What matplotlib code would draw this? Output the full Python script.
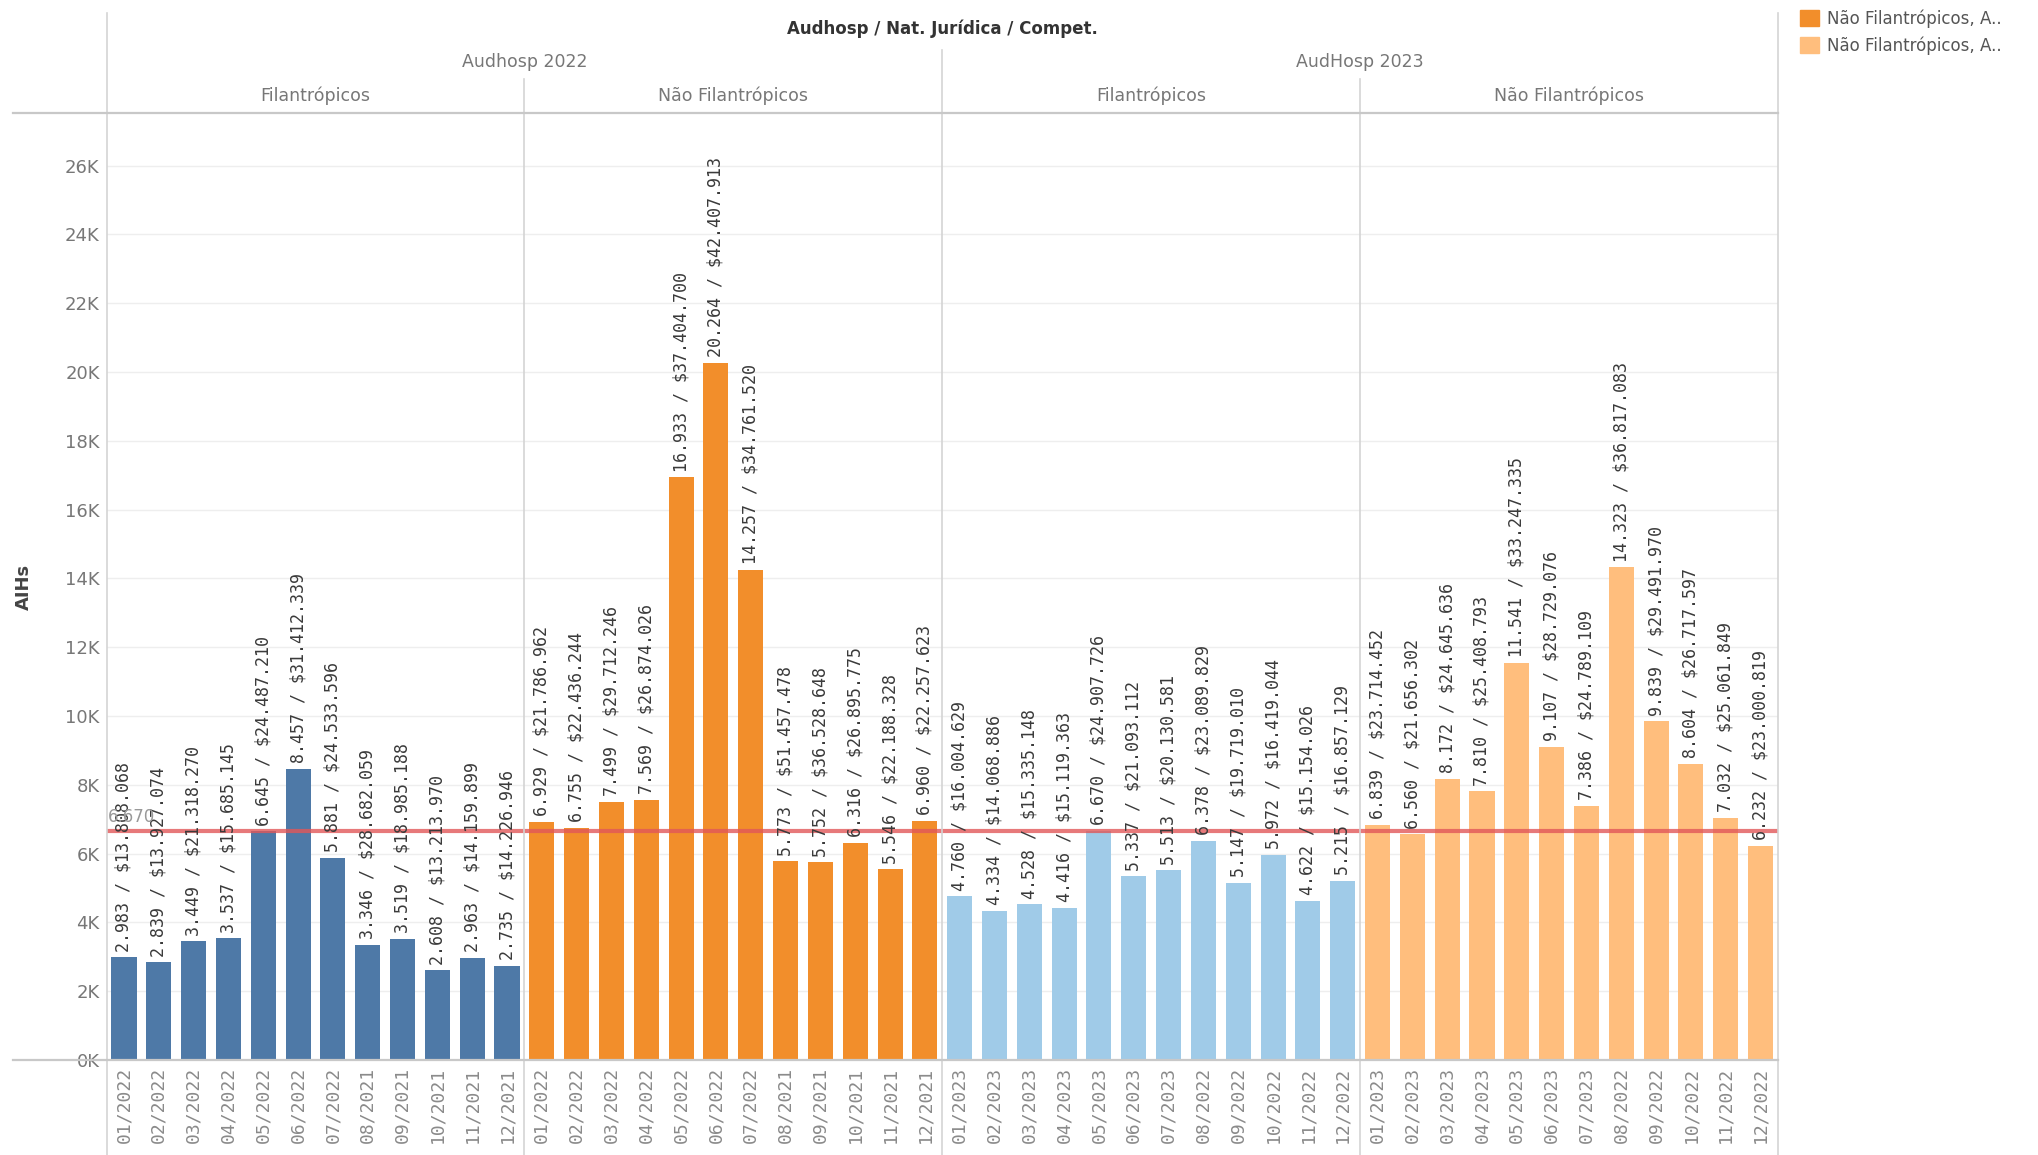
import matplotlib.pyplot as plt
from matplotlib.lines import Line2D
from matplotlib.patches import Patch
from matplotlib.transforms import blended_transform_factory

# dados
meses_2022 = ['01/2022', '02/2022', '03/2022', '04/2022', '05/2022', '06/2022',
              '07/2022', '08/2021', '09/2021', '10/2021', '11/2021', '12/2021']
meses_2023 = ['01/2023', '02/2023', '03/2023', '04/2023', '05/2023', '06/2023',
              '07/2023', '08/2022', '09/2022', '10/2022', '11/2022', '12/2022']

fil_2022 = [2983, 2839, 3449, 3537, 6645, 8457, 5881, 3346, 3519, 2608, 2963, 2735]
fil_2022_valor = ['$13.808.068', '$13.927.074', '$21.318.270', '$15.685.145',
                  '$24.487.210', '$31.412.339', '$24.533.596', '$28.682.059',
                  '$18.985.188', '$13.213.970', '$14.159.899', '$14.226.946']

nfil_2022 = [6929, 6755, 7499, 7569, 16933, 20264, 14257, 5773, 5752, 6316, 5546, 6960]
nfil_2022_valor = ['$21.786.962', '$22.436.244', '$29.712.246', '$26.874.026',
                   '$37.404.700', '$42.407.913', '$34.761.520', '$51.457.478',
                   '$36.528.648', '$26.895.775', '$22.188.328', '$22.257.623']

fil_2023 = [4760, 4334, 4528, 4416, 6670, 5337, 5513, 6378, 5147, 5972, 4622, 5215]
fil_2023_valor = ['$16.004.629', '$14.068.886', '$15.335.148', '$15.119.363',
                  '$24.907.726', '$21.093.112', '$20.130.581', '$23.089.829',
                  '$19.719.010', '$16.419.044', '$15.154.026', '$16.857.129']

nfil_2023 = [6839, 6560, 8172, 7810, 11541, 9107, 7386, 14323, 9839, 8604, 7032, 6232]
nfil_2023_valor = ['$23.714.452', '$21.656.302', '$24.645.636', '$25.408.793',
                   '$33.247.335', '$28.729.076', '$24.789.109', '$36.817.083',
                   '$29.491.970', '$26.717.597', '$25.061.849', '$23.000.819']

media = 6670

paineis = [
    (fil_2022, fil_2022_valor, meses_2022, '#4e79a7'),
    (nfil_2022, nfil_2022_valor, meses_2022, '#f28e2b'),
    (fil_2023, fil_2023_valor, meses_2023, '#a0cbe8'),
    (nfil_2023, nfil_2023_valor, meses_2023, '#ffbe7d'),
]

GRID = '#d4d4d4'
MONO = 'DejaVu Sans Mono'

fig = plt.figure(figsize=(20.38, 11.55), dpi=100)
ax = fig.add_axes([0.0523, 0.0823, 0.8201, 0.8199])

xs_all = []
labels_all = []
for i, (vals, valores, meses, cor) in enumerate(paineis):
    xs = [i * 12 + k for k in range(12)]
    ax.bar(xs, vals, width=0.72, color=cor, zorder=2)
    for x, v, s in zip(xs, vals, valores):
        ax.annotate(f'{v / 1000:.3f} / {s}'.replace('.', ',', 0).replace(',', '.'),
                    (x, v), xytext=(0, 4), textcoords='offset points',
                    rotation=90, ha='center', va='bottom', fontsize=12,
                    family=MONO, color='#3a3a3a', zorder=4)
    xs_all += xs
    labels_all += meses

# linha de referência
ax.axhline(media, color='#e15759', lw=3, alpha=0.8, zorder=3)
ax.text(-0.45, media + 120, f'{media / 1000:.3f}', color='#999999',
        fontsize=12, ha='left', va='bottom', zorder=5)

ax.set_xlim(-0.5, 47.5)
ax.set_ylim(0, 27530)
ax.set_yticks(range(0, 26001, 2000))
ax.set_yticklabels([f'{t // 1000}K' for t in range(0, 26001, 2000)],
                   fontsize=13, color='#777777')
ax.set_xticks(xs_all)
ax.set_xticklabels(labels_all, rotation=90, family=MONO, fontsize=13,
                   color='#8a8a8a', va='top')
ax.tick_params(length=0, pad=5)
ax.grid(axis='y', color='#eeeeee', lw=1, zorder=0)
ax.set_axisbelow(True)
for s in ax.spines.values():
    s.set_visible(False)

ax.set_ylabel('AIHs', fontsize=13, fontweight='bold', color='#444444')
ax.yaxis.set_label_coords(-0.044, 0.5)

# linhas de estrutura (estilo Tableau)
bt = blended_transform_factory(ax.transData, fig.transFigure)
for x, y_top in [(-0.5, 0.989), (11.5, 0.932), (23.5, 0.957), (35.5, 0.932), (47.5, 0.989)]:
    fig.add_artist(Line2D([x, x], [0, y_top], transform=bt, color=GRID, lw=1.2))
for y in [0.0823, 0.9022]:
    fig.add_artist(Line2D([0.0064, 0.8724], [y, y], transform=fig.transFigure,
                          color='#c8c8c8', lw=1.6))

# cabeçalhos
ax.text(23.5, 0.975, 'Audhosp / Nat. Jurídica / Compet.', transform=bt,
        ha='center', va='center', fontsize=12, fontweight='bold', color='#333333')
ax.text(11.5, 0.946, 'Audhosp 2022', transform=bt, ha='center', va='center',
        fontsize=12.5, color='#777777')
ax.text(35.5, 0.946, 'AudHosp 2023', transform=bt, ha='center', va='center',
        fontsize=12.5, color='#777777')
for c, t in [(5.5, 'Filantrópicos'), (17.5, 'Não Filantrópicos'),
             (29.5, 'Filantrópicos'), (41.5, 'Não Filantrópicos')]:
    ax.text(c, 0.917, t, transform=bt, ha='center', va='center',
            fontsize=12.5, color='#777777')

# legenda
handles = [Patch(color='#f28e2b'), Patch(color='#ffbe7d')]
fig.legend(handles, ['Não Filantrópicos, A..', 'Não Filantrópicos, A..'],
           loc='upper left', bbox_to_anchor=(0.876, 1.005), frameon=False,
           fontsize=12, handlelength=1.1, handleheight=1.1, handletextpad=0.5,
           labelspacing=0.5, labelcolor='#555555')

fig.savefig('out.png', dpi=100, facecolor='white')
